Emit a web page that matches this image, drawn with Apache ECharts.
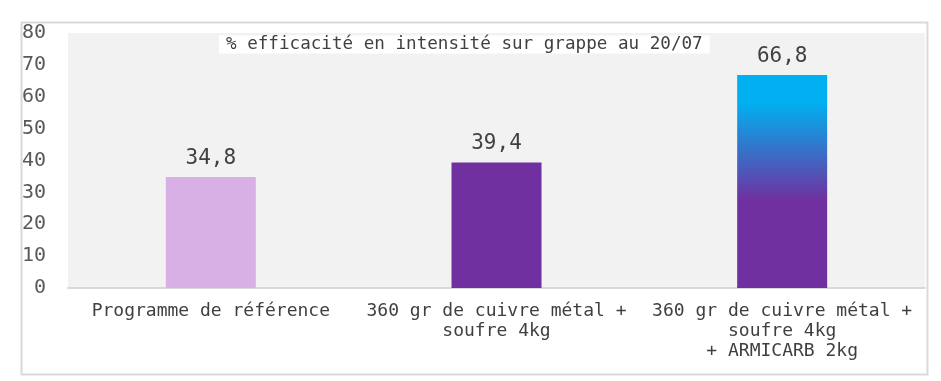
<!DOCTYPE html>
<html>
<head>
<meta charset="utf-8">
<script src="https://cdn.jsdelivr.net/npm/echarts@6/dist/echarts.min.js"></script>
<style>
html,body{margin:0;padding:0;background:#fff;}
#chart{width:941px;height:381px;}
</style>
</head>
<body>
<div id="chart"></div>
<script>
const categories = [
  "Programme de référence",
  "360 gr de cuivre métal +\nsoufre 4kg",
  "360 gr de cuivre métal +\nsoufre 4kg\n+ ARMICARB 2kg"
];
const values = [34.8, 39.4, 66.8];
const chartTitle = "% efficacité en intensité sur grappe au 20/07";
const yTicks = [0, 10, 20, 30, 40, 50, 60, 70, 80];

const FONT = "DejaVu Sans Mono";
const chart = echarts.init(document.getElementById('chart'), null, {renderer: 'canvas'});

const barStyles = [
  {color: '#d8b0e5'},
  {color: '#7030a0'},
  {color: new echarts.graphic.LinearGradient(0, 0, 0, 1, [
    {offset: 0, color: '#00b0f0'},
    {offset: 0.13, color: '#00b0f0'},
    {offset: 0.59, color: '#7030a0'},
    {offset: 1, color: '#7030a0'}
  ])}
];

chart.setOption({
  animation: false,
  backgroundColor: '#ffffff',
  graphic: [{
    type: 'rect',
    left: 19, top: 20,
    shape: {width: 906, height: 352},
    style: {fill: 'none', stroke: '#d9d9d9', lineWidth: 2},
    z: 100
  }],
  title: {
    text: chartTitle,
    left: 219, top: 36,
    padding: [0, 7, 0, 7],
    backgroundColor: '#ffffff',
    textStyle: {fontFamily: FONT, fontSize: 17.6, fontWeight: 'normal', color: '#404040', lineHeight: 17}
  },
  grid: {
    left: 68, right: 16, top: 33, bottom: 93,
    show: true, backgroundColor: '#f2f2f2', borderWidth: 0
  },
  xAxis: {
    type: 'category',
    data: categories,
    axisLine: {show: true, lineStyle: {color: '#d9d9d9', width: 2}},
    axisTick: {show: false},
    axisLabel: {fontFamily: FONT, fontSize: 18, lineHeight: 20, color: '#404040', margin: 13, interval: 0, align: 'center'},
    splitLine: {show: false}
  },
  yAxis: {
    type: 'value',
    min: yTicks[0], max: yTicks[yTicks.length - 1], interval: yTicks[1] - yTicks[0],
    axisLine: {show: false},
    axisTick: {show: false},
    splitLine: {show: false},
    axisLabel: {fontFamily: FONT, fontSize: 20, color: '#595959', margin: 22}
  },
  series: [{
    type: 'bar',
    barWidth: '31.5%',
    data: values.map((v, i) => ({value: v, itemStyle: barStyles[i]})),
    label: {
      show: true, position: 'top', distance: 8,
      fontFamily: FONT, fontSize: 21, color: '#404040',
      formatter: p => String(p.value).replace('.', ',')
    }
  }]
});
</script>
</body>
</html>
